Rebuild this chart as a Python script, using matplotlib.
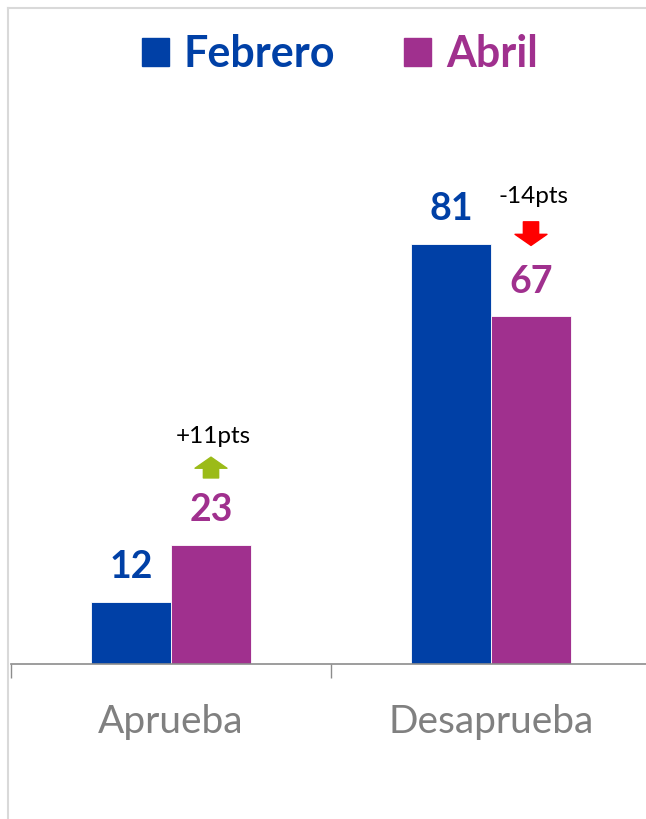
import numpy as np
import matplotlib.pyplot as plt
from matplotlib.lines import Line2D
from matplotlib.patches import Rectangle
from matplotlib.transforms import offset_copy

plt.rcParams['font.family'] = ['Lato', 'DejaVu Sans']

categories = ['Aprueba', 'Desaprueba']
series = ['Febrero', 'Abril']
febrero = [12, 81]
abril = [23, 67]
changes = ['+11pts', '-14pts']

blue = '#0040A6'
purple = '#A0308E'
up_color = '#9BBB18'
down_color = '#FF0000'

fig = plt.figure(figsize=(6.46, 8.19), dpi=100)
ax = fig.add_axes([11 / 646, 1 - 664 / 819, 640 / 646, 519 / 819])

x = np.arange(len(categories))
w = 0.25
ax.bar(x - w / 2, febrero, w, color=blue, edgecolor='white', linewidth=0.6)
ax.bar(x + w / 2, abril, w, color=purple, edgecolor='white', linewidth=0.6)

for i in range(len(categories)):
    ax.annotate(str(febrero[i]), (x[i] - w / 2, febrero[i]), xytext=(0, 25),
                textcoords='offset points', ha='center', va='center',
                fontsize=27, fontweight='bold', color=blue)
    ax.annotate(str(abril[i]), (x[i] + w / 2, abril[i]), xytext=(0, 25),
                textcoords='offset points', ha='center', va='center',
                fontsize=27, fontweight='bold', color=purple)

    # change arrow above the Abril bar (offsets in points from the bar top)
    up = changes[i].startswith('+')
    col = up_color if up else down_color
    tip, tail = (63, 48) if up else (51, 68)
    pos = (x[i] + w / 2, abril[i])
    ax.annotate('', xy=pos, xycoords=offset_copy(ax.transData, fig=fig, y=tip, units='points'),
                xytext=pos, textcoords=offset_copy(ax.transData, fig=fig, y=tail, units='points'),
                arrowprops=dict(arrowstyle='simple,head_width=23,head_length=8,tail_width=11',
                                mutation_scale=1, color=col, shrinkA=0, shrinkB=0))
    ax.annotate(changes[i], pos, xytext=(2, 78 if up else 86),
                textcoords='offset points', ha='center', va='center',
                fontsize=17.5, color='black')

ax.set_xlim(-0.5, 1.5)
ax.set_ylim(0, 100)
ax.set_xticks(x)
ax.set_xticklabels(categories, fontsize=28, color='#808080')
ax.set_xticks([-0.5, 0.5, 1.5], minor=True)
ax.tick_params(axis='x', which='major', length=0, pad=29)
ax.tick_params(axis='x', which='minor', length=10, color='#8c8c8c', width=1)
ax.set_yticks([])
for s in ['top', 'right', 'left']:
    ax.spines[s].set_visible(False)
ax.spines['bottom'].set_color('#8c8c8c')
ax.spines['bottom'].set_linewidth(1.2)

# legend
handles = [Rectangle((0, 0), 1, 1, color=blue), Rectangle((0, 0), 1, 1, color=purple)]
leg = fig.legend(handles, series, loc='center', bbox_to_anchor=(340 / 646, 1 - 54 / 819),
                 ncol=2, frameon=False, handlelength=0.62, handleheight=0.62,
                 handletextpad=0.35, columnspacing=1.6,
                 prop={'size': 31, 'weight': 'bold'})
for txt, c in zip(leg.get_texts(), [blue, purple]):
    txt.set_color(c)

# outer frame
fig.add_artist(Line2D([8 / 646, 8 / 646], [0, 1 - 8 / 819], color='#d9d9d9', lw=1.5))
fig.add_artist(Line2D([8 / 646, 1], [1 - 8 / 819, 1 - 8 / 819], color='#d9d9d9', lw=1.5))

fig.savefig('out.png', dpi=100)
